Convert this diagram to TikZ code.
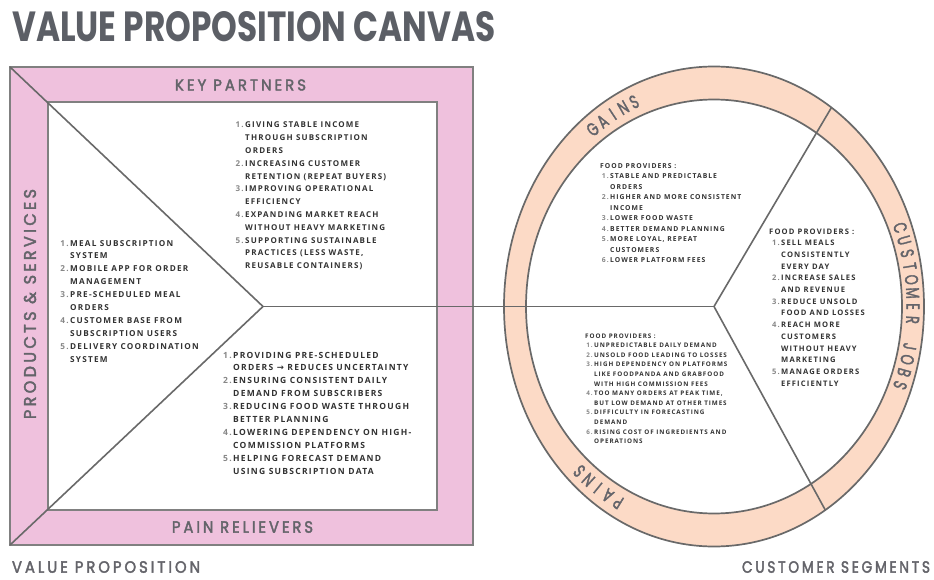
\documentclass[tikz,border=0pt]{standalone}
\usepackage{fontspec}
\usepackage{graphicx}
\setmainfont{Open Sans}
\newfontfamily\bodyfont{Open Sans}[LetterSpace=15]
\newfontfamily\labelfont{Poppins}[LetterSpace=20, FakeBold=2.5]
\newfontfamily\ringfont{Poppins}[FakeBold=2.5]
\newfontfamily\titlefont{Poppins}
\newfontfamily\symfont{DejaVu Sans}

\definecolor{vpink}{RGB}{239,193,221}
\definecolor{vpeach}{RGB}{252,218,198}
\definecolor{edge}{RGB}{128,128,128}
\definecolor{rulegray}{RGB}{105,105,105}
\definecolor{ink}{RGB}{50,50,50}
\definecolor{numgray}{RGB}{135,135,135}
\definecolor{headgray}{RGB}{92,95,102}
\definecolor{lblgray}{RGB}{100,100,106}

% list helpers: number column of width \numw, body font at given size/leading
\newlength\numw
\newcommand\nm[1]{\makebox[\numw][r]{\color{numgray}#1\hspace{1.5pt}}}
\newcommand\blk[3]{\bodyfont\bfseries\fontsize{#1}{#2}\selectfont\setlength\numw{#3}\color{ink}}
% stretched section label: width, cap height, text
\newcommand\lbl[3]{\resizebox{#1}{#2}{\labelfont #3}}

\tikzset{
  frame/.style={draw=edge, line width=2.2pt},
  divider/.style={draw=rulegray, line width=1.6pt},
  ringedge/.style={draw=rulegray, line width=1.7pt},
  textblock/.style={inner sep=0pt, anchor=base west},
  sectionlabel/.style={inner sep=0pt, text=lblgray},
  ringletter/.style={inner sep=0pt, text=lblgray, font=\ringfont\fontsize{18.5}{18.5}\selectfont},
}

\begin{document}
\begin{tikzpicture}[x=1pt, y=1pt]
\useasboundingbox (0,0) rectangle (934,-580);
\fill[white] (0,0) rectangle (934,-580);

% ---------- value proposition square ----------
\coordinate (oTL) at (10,-67);
\coordinate (oBR) at (473,-545);
\coordinate (oBL) at (10,-545);
\coordinate (iTL) at (48,-102);
\coordinate (iBR) at (437,-510);
\coordinate (tip) at (263,-306.5);
\fill[vpink] (oTL) rectangle (oBR);
\draw[frame] (oTL) rectangle (oBR);
\filldraw[fill=white, frame] (iTL) rectangle (iBR);

% ---------- customer profile ring ----------
\coordinate (hub) at (714,-306.5);
\fill[vpeach, even odd rule] (hub) ellipse [x radius=210pt, y radius=240pt]
                             (hub) ellipse [x radius=188pt, y radius=207pt];
\draw[ringedge] (hub) ellipse [x radius=210pt, y radius=240pt];
\draw[ringedge] (hub) ellipse [x radius=188pt, y radius=207pt];

\coordinate (gjEnd) at ({714+210*cos(56)},{-306.5+240*sin(56)});
\coordinate (pjEnd) at ({714+210*cos(-58)},{-306.5+240*sin(-58)});

% ---------- dividing lines ----------
\draw[divider] (oTL) -- (tip) -- (oBL);
\draw[divider] (tip) -- (hub);
\draw[divider] (gjEnd) -- (hub) -- (pjEnd);

% ---------- headings ----------
\node[anchor=west, inner sep=0pt, text=headgray] (title) at (12,-27)
  {\resizebox{483pt}{30pt}{\titlefont\bfseries VALUE PROPOSITION CANVAS}};
\node[sectionlabel] (kpLabel) at (240.5,-85) {\lbl{131pt}{11pt}{KEY PARTNERS}};
\node[sectionlabel] (prLabel) at (242.5,-527) {\lbl{141pt}{11.5pt}{PAIN RELIEVERS}};
\node[sectionlabel, rotate=90] (psLabel) at (30,-304) {\lbl{230pt}{12pt}{PRODUCTS \& SERVICES}};
\node[sectionlabel] (vpLabel) at (106,-567) {\lbl{188pt}{11.5pt}{VALUE PROPOSITION}};
\node[sectionlabel] (csLabel) at (836,-567) {\lbl{188pt}{11.5pt}{CUSTOMER SEGMENTS}};

% ---------- ring labels, letter by letter along the ring ----------
\foreach \ch [count=\i from 0] in {G,A,I,N,S} {
  \pgfmathsetmacro\t{120.6+6.92-3.46*\i}
  \pgfmathsetmacro\r{atan2(-223.5*cos(\t),199*sin(\t))}
  \node[ringletter, rotate=\r] (gains-\i) at ({714+199*cos(\t)},{-306.5+223.5*sin(\t)}) {\scalebox{0.7}[1]{\ch}};
}
\foreach \ch [count=\i from 0] in {P,A,I,N,S} {
  \pgfmathsetmacro\t{234.3+6.9-3.45*\i}
  \pgfmathsetmacro\r{atan2(-223.5*cos(\t),199*sin(\t))}
  \node[ringletter, rotate=\r] (pains-\i) at ({714+199*cos(\t)},{-306.5+223.5*sin(\t)}) {\scalebox{0.7}[1]{\ch}};
}
\foreach \ch [count=\i from 0] in {C,U,S,T,O,M,E,R} {
  \pgfmathsetmacro\t{20.64-3.44*\i}
  \pgfmathsetmacro\r{atan2(-223.5*cos(\t),199*sin(\t))}
  \node[ringletter, rotate=\r] (jobsA-\i) at ({714+199*cos(\t)},{-306.5+223.5*sin(\t)}) {\scalebox{0.7}[1]{\ch}};
}
\foreach \ch [count=\i from 9] in {J,O,B,S} {
  \pgfmathsetmacro\t{20.64-3.44*\i}
  \pgfmathsetmacro\r{atan2(-223.5*cos(\t),199*sin(\t))}
  \node[ringletter, rotate=\r] (jobsB-\i) at ({714+199*cos(\t)},{-306.5+223.5*sin(\t)}) {\scalebox{0.7}[1]{\ch}};
}

% ---------- key partners ----------
\node[textblock] (kpList) at (233,-128) {\blk{8}{12.8}{12pt}%
\begin{tabular}[t]{@{}l@{}l@{}}
\nm{1.} & GIVING STABLE INCOME\\
 & THROUGH SUBSCRIPTION\\
 & ORDERS\\
\nm{2.} & INCREASING CUSTOMER\\
 & RETENTION (REPEAT BUYERS)\\
\nm{3.} & IMPROVING OPERATIONAL\\
 & EFFICIENCY\\
\nm{4.} & EXPANDING MARKET REACH\\
 & WITHOUT HEAVY MARKETING\\
\nm{5.} & SUPPORTING SUSTAINABLE\\
 & PRACTICES (LESS WASTE,\\
 & REUSABLE CONTAINERS)
\end{tabular}};

% ---------- products & services ----------
\node[textblock] (psList) at (58,-246) {\blk{8.2}{12.9}{12pt}%
\begin{tabular}[t]{@{}l@{}l@{}}
\nm{1.} & MEAL SUBSCRIPTION\\
 & SYSTEM\\
\nm{2.} & MOBILE APP FOR ORDER\\
 & MANAGEMENT\\
\nm{3.} & PRE-SCHEDULED MEAL\\
 & ORDERS\\
\nm{4.} & CUSTOMER BASE FROM\\
 & SUBSCRIPTION USERS\\
\nm{5.} & DELIVERY COORDINATION\\
 & SYSTEM
\end{tabular}};

% ---------- pain relievers ----------
\node[textblock] (prList) at (222,-358) {\blk{8.5}{12.9}{11pt}%
\begin{tabular}[t]{@{}l@{}l@{}}
\nm{1.} & PROVIDING PRE-SCHEDULED\\
 & ORDERS {\symfont\bfseries →} REDUCES UNCERTAINTY\\
\nm{2.} & ENSURING CONSISTENT DAILY\\
 & DEMAND FROM SUBSCRIBERS\\
\nm{3.} & REDUCING FOOD WASTE THROUGH\\
 & BETTER PLANNING\\
\nm{4.} & LOWERING DEPENDENCY ON HIGH-\\
 & COMMISSION PLATFORMS\\
\nm{5.} & HELPING FORECAST DEMAND\\
 & USING SUBSCRIPTION DATA
\end{tabular}};

% ---------- gains ----------
\node[textblock] (gainsList) at (600,-168.5) {\blk{6.8}{10.5}{10pt}%
\begin{tabular}[t]{@{}l@{}l@{}}
\multicolumn{2}{@{}l@{}}{FOOD PROVIDERS :}\\
\nm{1.} & STABLE AND PREDICTABLE\\
 & ORDERS\\
\nm{2.} & HIGHER AND MORE CONSISTENT\\
 & INCOME\\
\nm{3.} & LOWER FOOD WASTE\\
\nm{4.} & BETTER DEMAND PLANNING\\
\nm{5.} & MORE LOYAL, REPEAT\\
 & CUSTOMERS\\
\nm{6.} & LOWER PLATFORM FEES
\end{tabular}};

% ---------- customer jobs ----------
\node[textblock] (jobsList) at (769,-234) {\blk{7.6}{11.7}{12pt}%
\begin{tabular}[t]{@{}l@{}l@{}}
\multicolumn{2}{@{}l@{}}{FOOD PROVIDERS :}\\
\nm{1.} & SELL MEALS\\
 & CONSISTENTLY\\
 & EVERY DAY\\
\nm{2.} & INCREASE SALES\\
 & AND REVENUE\\
\nm{3.} & REDUCE UNSOLD\\
 & FOOD AND LOSSES\\
\nm{4.} & REACH MORE\\
 & CUSTOMERS\\
 & WITHOUT HEAVY\\
 & MARKETING\\
\nm{5.} & MANAGE ORDERS\\
 & EFFICIENTLY
\end{tabular}};

% ---------- pains ----------
\node[textblock] (painsList) at (585,-338) {\blk{6.3}{9.6}{9pt}%
\begin{tabular}[t]{@{}l@{}l@{}}
\multicolumn{2}{@{}l@{}}{FOOD PROVIDERS :}\\
\nm{1.} & UNPREDICTABLE DAILY DEMAND\\
\nm{2.} & UNSOLD FOOD LEADING TO LOSSES\\
\nm{3.} & HIGH DEPENDENCY ON PLATFORMS\\
 & LIKE FOODPANDA AND GRABFOOD\\
 & WITH HIGH COMMISSION FEES\\
\nm{4.} & TOO MANY ORDERS AT PEAK TIME,\\
 & BUT LOW DEMAND AT OTHER TIMES\\
\nm{5.} & DIFFICULTY IN FORECASTING\\
 & DEMAND\\
\nm{6.} & RISING COST OF INGREDIENTS AND\\
 & OPERATIONS
\end{tabular}};

\end{tikzpicture}
\end{document}
